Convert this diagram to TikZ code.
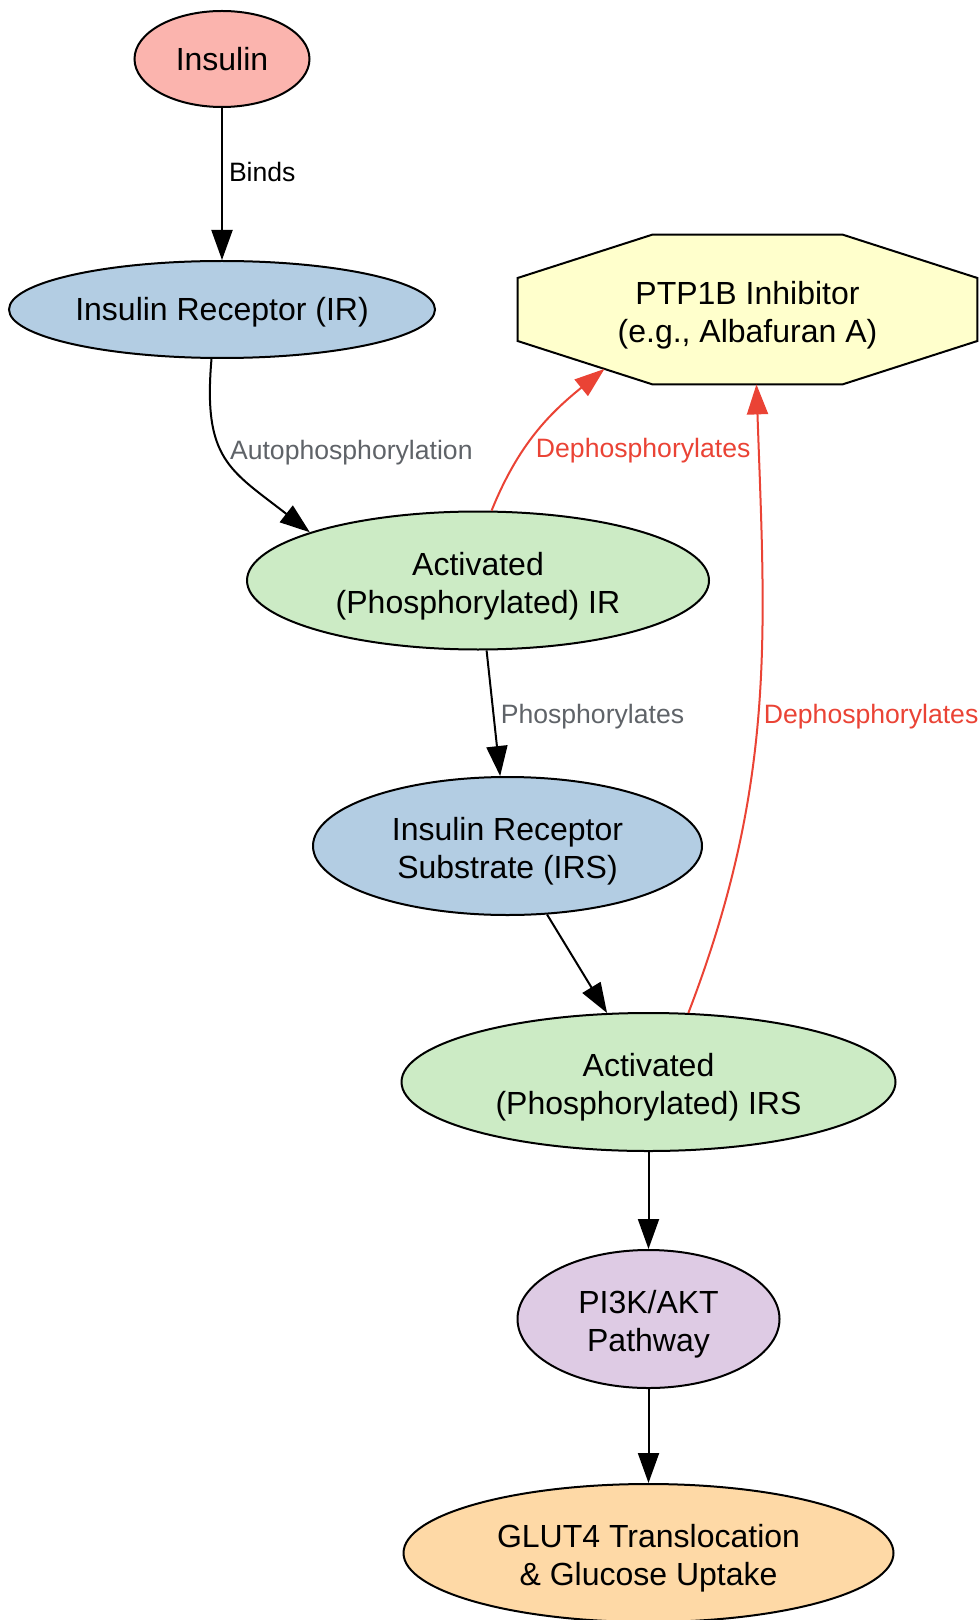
\documentclass[tikz,border=0pt]{standalone}
\usepackage{fontspec}
\setmainfont{Liberation Sans}
\usepackage{xcolor}
\usepackage{tikz}
\usetikzlibrary{shapes.geometric, arrows.meta, positioning, calc, backgrounds}
\definecolor{insulinred}{HTML}{FBB4AE}
\definecolor{receptorblue}{HTML}{B3CDE3}
\definecolor{activegreen}{HTML}{CCEBC5}
\definecolor{pathwaypurple}{HTML}{DECBE4}
\definecolor{uptakeorange}{HTML}{FED9A6}
\definecolor{inhibyellow}{HTML}{FFFFCC}
\definecolor{dephosred}{HTML}{EA4335}
\definecolor{labelgray}{HTML}{5F6368}
\newcommand{\topstrut}{\rule{0pt}{17pt}}
\tikzset{every node/.style={align=center}}

\begin{document}
\begin{tikzpicture}[
    x=0.5pt, y=0.5pt,
    bio/.style={ellipse, draw, line width=1pt, inner sep=0pt, font=\fontsize{16pt}{19pt}\selectfont},
    msg/.style={line width=1pt, -{Triangle[length=15pt,width=10.5pt]}},
    lbl/.style={font=\fontsize{13.3pt}{15pt}\selectfont, inner sep=3pt}
]
  \useasboundingbox (0,0) rectangle (979,-1620);
  % Pathway nodes
  \node (ins)    at (222,-59)     [bio, fill=insulinred,    minimum width=87.5pt, minimum height=48pt]   {Insulin};
  \node (ir)     at (222,-309.5)  [bio, fill=receptorblue,  minimum width=213pt,  minimum height=48.5pt] {\rule{0pt}{14pt}Insulin Receptor (IR)};
  \node (actir)  at (478,-580.5)  [bio, fill=activegreen,   minimum width=231pt,  minimum height=69pt]   {\topstrut Activated\\(Phosphorylated) IR};
  \node (irs)    at (507.5,-846)  [bio, fill=receptorblue,  minimum width=194.5pt, minimum height=69pt]  {\topstrut Insulin Receptor\\Substrate (IRS)};
  \node (actirs) at (648.5,-1082) [bio, fill=activegreen,   minimum width=247pt,  minimum height=69pt]   {\topstrut Activated\\(Phosphorylated) IRS};
  \node (pik)    at (648.5,-1319) [bio, fill=pathwaypurple, minimum width=131pt,  minimum height=69pt]   {\topstrut PI3K/AKT\\Pathway};
  \node (glut)   at (648.5,-1553) [bio, fill=uptakeorange,  minimum width=245pt,  minimum height=69pt]   {\topstrut GLUT4 Translocation\\\& Glucose Uptake};
  % Inhibitor (octagon)
  \node (ptp)    at (747.5,-309.5) [minimum width=229.5pt, minimum height=74.5pt, inner sep=0pt, font=\fontsize{16pt}{19pt}\selectfont] {\topstrut PTP1B Inhibitor\\(e.g., Albafuran A)};
  \coordinate (o1) at ($(ptp.north)+(-95,0)$);
  \coordinate (o2) at ($(ptp.north)+(95,0)$);
  \coordinate (o3) at ($(ptp.east)+(0,31.5)$);
  \coordinate (o4) at ($(ptp.east)+(0,-31.5)$);
  \coordinate (o5) at ($(ptp.south)+(95,0)$);
  \coordinate (o6) at ($(ptp.south)+(-95,0)$);
  \coordinate (o7) at ($(ptp.west)+(0,-31.5)$);
  \coordinate (o8) at ($(ptp.west)+(0,31.5)$);
  \coordinate (ptpin1) at ($(o7)!0.644!(o6)$);
  \coordinate (ptpin2) at ($(o6)!0.547!(o5)$);
  \begin{scope}[on background layer]
    \draw[line width=1pt, fill=inhibyellow] (o1) -- (o2) -- (o3) -- (o4) -- (o5) -- (o6) -- (o7) -- (o8) -- cycle;
  \end{scope}
  % Signalling
  \draw[msg] (ins) -- node[lbl, right, pos=0.42]{Binds} (ir);
  \draw[msg] (ir.-102) to[out=-95, in=142, looseness=1.3] node[lbl, right, pos=0.45, text=labelgray]{Autophosphorylation} (actir.164);
  \draw[msg] (actir.-83.4) -- node[lbl, right, pos=0.53, text=labelgray]{Phosphorylates} (irs.96.2);
  \draw[msg] (irs.-60.6) -- (actirs.121.4);
  \draw[msg] (actirs) -- (pik);
  \draw[msg] (pik) -- (glut);
  % Inhibition
  \draw[msg, dephosred] (actir.79.8) to[out=68, in=219] node[lbl, right, pos=0.36, xshift=3pt]{Dephosphorylates} (ptpin1);
  \draw[msg, dephosred] (actirs.60.5) to[out=69, in=-88] node[lbl, right, pos=0.48, xshift=-0.5pt]{Dephosphorylates} (ptpin2);
\end{tikzpicture}
\end{document}
